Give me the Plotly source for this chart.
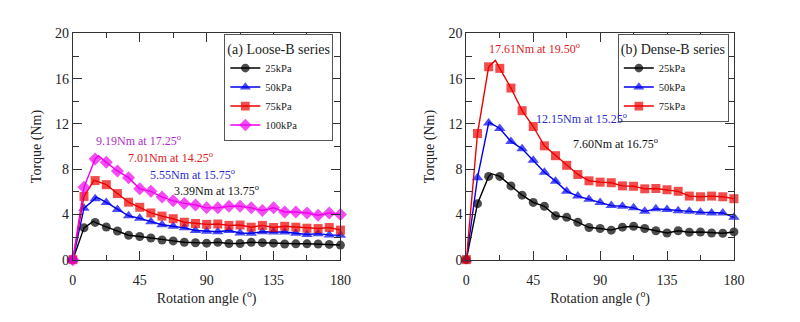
import plotly.graph_objects as go

# Rotation angles where markers are plotted (every 7.5 degrees)
angles = [0, 7.5, 15, 22.5, 30, 37.5, 45, 52.5, 60, 67.5, 75, 82.5, 90,
          97.5, 105, 112.5, 120, 127.5, 135, 142.5, 150, 157.5, 165, 172.5, 180]

# (a) Loose-B series torque (Nm)
loose_25 = [0, 2.81, 3.29, 2.89, 2.53, 2.16, 2.05, 1.91, 1.74, 1.66, 1.54, 1.49, 1.46,
            1.54, 1.43, 1.43, 1.54, 1.50, 1.46, 1.38, 1.40, 1.40, 1.38, 1.35, 1.29]
loose_50 = [0, 4.55, 5.39, 5.06, 4.44, 3.88, 3.65, 3.34, 3.09, 2.95, 2.81, 2.58, 2.50,
            2.47, 2.58, 2.36, 2.33, 2.47, 2.44, 2.44, 2.33, 2.22, 2.30, 2.19, 2.16]
loose_75 = [0, 5.59, 6.99, 6.63, 5.84, 5.08, 4.63, 4.13, 3.85, 3.62, 3.31, 3.20, 3.12,
            3.15, 3.03, 3.06, 2.87, 3.03, 2.84, 2.95, 2.87, 2.78, 2.75, 2.84, 2.61]
loose_100 = [0, 6.40, 8.90, 8.60, 7.84, 7.25, 6.26, 6.04, 5.53, 5.20, 4.97, 4.83, 4.58,
             4.58, 4.72, 4.72, 4.58, 4.35, 4.58, 4.21, 4.21, 4.13, 3.93, 4.13, 3.99]

# (b) Dense-B series torque (Nm)
dense_25 = [0, 4.95, 7.36, 7.36, 6.52, 5.70, 5.06, 4.72, 3.88, 3.74, 3.31, 2.84, 2.75,
            2.61, 2.87, 2.95, 2.75, 2.56, 2.36, 2.56, 2.42, 2.44, 2.36, 2.33, 2.45]
dense_50 = [0, 7.25, 12.08, 11.60, 10.45, 9.80, 8.79, 7.72, 6.94, 6.04, 5.62, 5.34, 5.06,
            4.78, 4.72, 4.58, 4.27, 4.49, 4.44, 4.33, 4.27, 4.19, 4.13, 4.13, 3.74]
dense_75 = [0, 11.15, 17.05, 16.91, 15.17, 13.17, 11.77, 10.06, 9.19, 8.34, 7.53, 6.97, 6.85,
            6.80, 6.52, 6.49, 6.26, 6.29, 6.18, 6.04, 5.62, 5.56, 5.62, 5.56, 5.39]

# Peak torque (Nm) and the angle (deg) at which it occurs
loose_peaks = [(3.39, 13.75), (5.55, 15.75), (7.01, 14.25), (9.19, 17.25)]
dense_peaks = [(7.60, 16.75), (12.15, 15.25), (17.61, 19.50)]

pressures_loose = ["25kPa", "50kPa", "75kPa", "100kPa"]
pressures_dense = ["25kPa", "50kPa", "75kPa"]

colors = ["#000000", "#0000ee", "#ee0000", "#ee00ee"]
text_colors = ["#111111", "#2a2ad0", "#e02020", "#b02cc8"]
symbols = ["circle", "triangle-up", "square", "diamond"]
msizes = [9, 10, 9, 10]

SERIF = "Liberation Serif"

fig = go.Figure()


def add_series(series, peaks, names, xa, ya, legend):
    for i, (vals, (pk, pa), name) in enumerate(zip(series, peaks, names)):
        # merge the peak reading into the curve; it carries no marker
        pts = sorted(list(zip(angles, vals, [True] * len(vals))) + [(pa, pk, False)])
        xs = [p[0] for p in pts]
        ys = [p[1] for p in pts]
        sizes = [msizes[i] if p[2] else 0 for p in pts]
        fig.add_trace(go.Scatter(
            x=xs, y=ys, mode="lines+markers", name=name,
            line=dict(color=colors[i], width=1.4),
            marker=dict(symbol=symbols[i], size=sizes, color=colors[i],
                        line=dict(width=0)),
            xaxis=xa, yaxis=ya, legend=legend, cliponaxis=False,
        ))


add_series([loose_25, loose_50, loose_75, loose_100], loose_peaks,
           pressures_loose, "x", "y", "legend")
add_series([dense_25, dense_50, dense_75], dense_peaks,
           pressures_dense, "x2", "y2", "legend2")

# Peak labels
loose_label_pos = [(67.0, 6.15), (50.3, 7.5), (35.5, 9.0), (14.3, 10.55)]
dense_label_pos = [(70.2, 10.3), (45.7, 12.45), (14.2, 18.65)]
for i, ((pk, pa), (lx, ly)) in enumerate(zip(loose_peaks, loose_label_pos)):
    fig.add_annotation(x=lx, y=ly, xref="x", yref="y", xanchor="left", yanchor="middle",
                       text=f"{pk:.2f}Nm at {pa:.2f}<sup>o</sup>", showarrow=False,
                       font=dict(family=SERIF, size=12, color=text_colors[i]))
for i, ((pk, pa), (lx, ly)) in enumerate(zip(dense_peaks, dense_label_pos)):
    fig.add_annotation(x=lx, y=ly, xref="x2", yref="y2", xanchor="left", yanchor="middle",
                       text=f"{pk:.2f}Nm at {pa:.2f}<sup>o</sup>", showarrow=False,
                       font=dict(family=SERIF, size=12, color=text_colors[i]))

axis_common = dict(
    showline=True, linecolor="#333333", linewidth=1, mirror="ticks",
    ticks="inside", tickcolor="#333333", ticklen=9, tickwidth=1,
    showgrid=False, zeroline=False,
    tickfont=dict(family=SERIF, size=14, color="#222222"),
)
xaxis_style = dict(axis_common, range=[0, 180], tick0=0, dtick=45, ticklabelstandoff=8,
                   minor=dict(dtick=22.5, ticklen=5, tickcolor="#333333", ticks="inside"),
                   title=dict(text="Rotation angle (<sup>o</sup>)", standoff=1,
                              font=dict(family=SERIF, size=14, color="#222222")))
yaxis_style = dict(axis_common, range=[0, 20], tick0=0, dtick=4,
                   minor=dict(dtick=2, ticklen=6, tickcolor="#333333", ticks="inside"),
                   title=dict(text="Torque (Nm)", standoff=10,
                              font=dict(family=SERIF, size=14, color="#222222")))

ybot = 57 / 322
ytop = 294.3 / 322

legend_style = dict(
    bgcolor="white", bordercolor="#555555", borderwidth=1,
    font=dict(family=SERIF, size=10.5, color="#222222"),
    xanchor="left", yanchor="top", itemwidth=30, tracegroupgap=0,
)

fig.update_layout(
    width=800, height=322,
    margin=dict(l=0, r=0, t=0, b=0),
    paper_bgcolor="white", plot_bgcolor="white",
    font=dict(family=SERIF),
    xaxis=dict(xaxis_style, domain=[71 / 800, 343 / 800], anchor="y"),
    yaxis=dict(yaxis_style, domain=[ybot, ytop], anchor="x"),
    xaxis2=dict(xaxis_style, domain=[471 / 800, 743 / 800], anchor="y2"),
    yaxis2=dict(yaxis_style, domain=[ybot, ytop], anchor="x2"),
    legend=dict(legend_style, x=225 / 800, y=ytop - 1 / 322,
                title=dict(text="(a) Loose-B series",
                           font=dict(family=SERIF, size=14, color="#222222"))),
    legend2=dict(legend_style, x=625 / 800, y=ytop - 1 / 322,
                 title=dict(text="(b) Dense-B series",
                            font=dict(family=SERIF, size=14, color="#222222"))),
    showlegend=True,
)

fig.write_html("out.html")
